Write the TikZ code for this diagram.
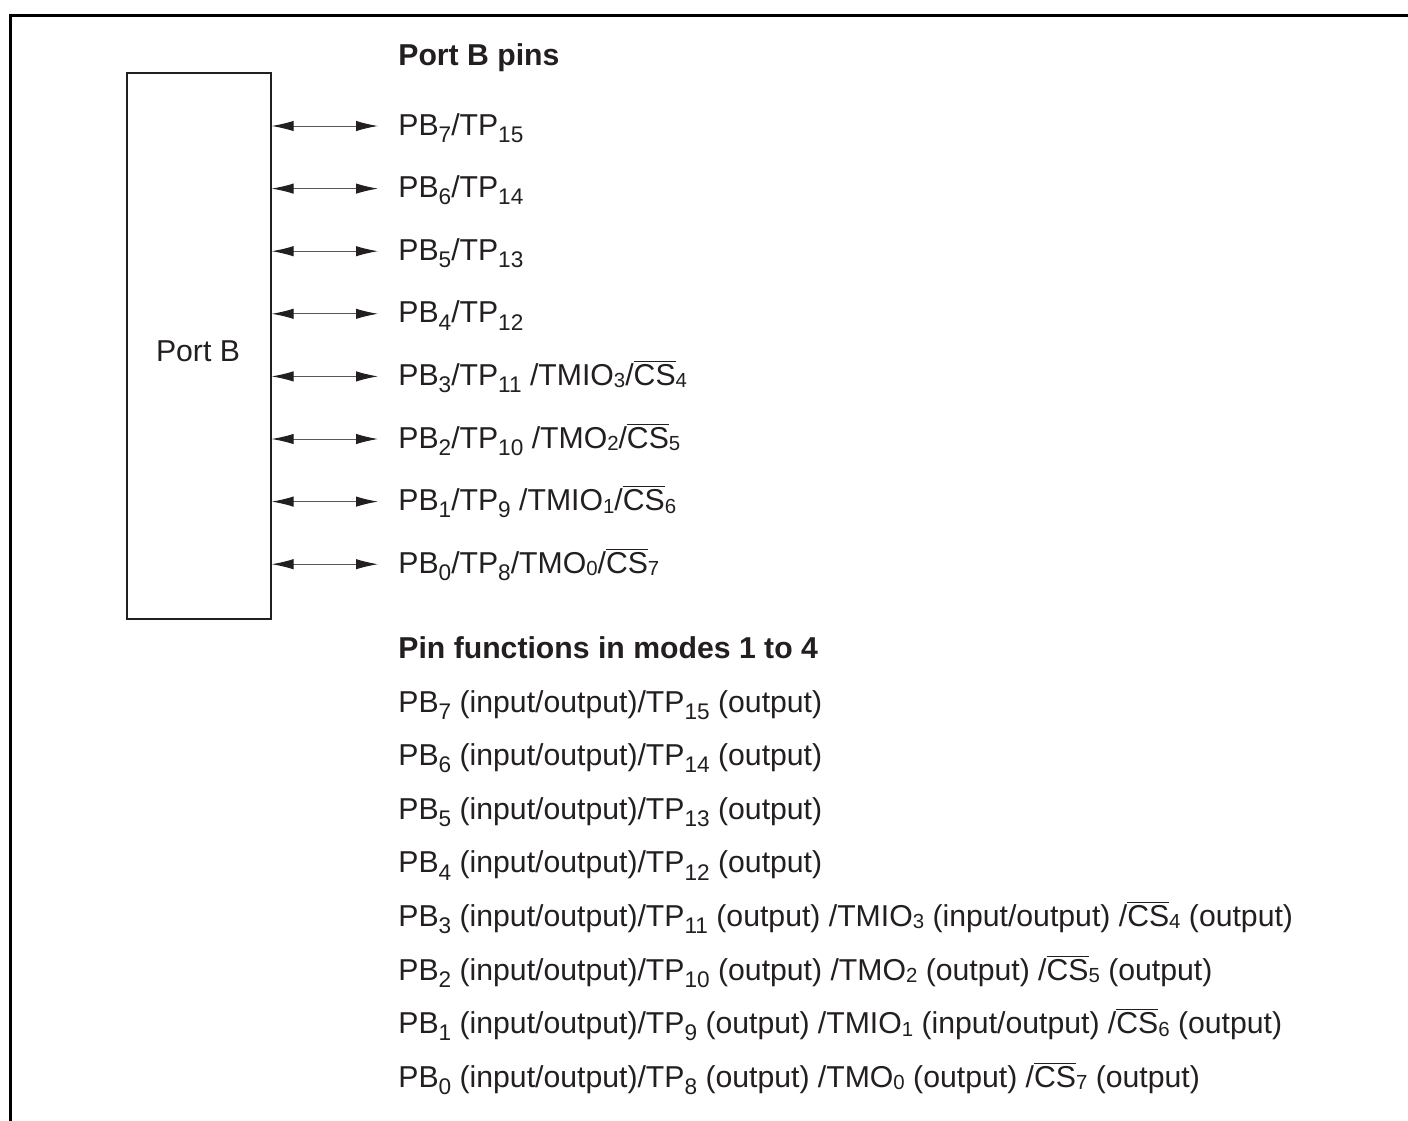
\documentclass[tikz,border=0pt]{standalone}
\usepackage{fontspec}
\setmainfont{Liberation Sans}
\usetikzlibrary{arrows.meta}
\definecolor{ink}{RGB}{35,31,32}
\newcommand\sbn[1]{\raisebox{-0.24em}{\fontsize{11.3}{13}\selectfont #1}}
\newcommand\sbs[1]{\raisebox{-0.08em}{\fontsize{10.2}{12}\selectfont #1}}
\newcommand\csbar{$\overline{\hbox{CS}}$}
\begin{document}
\begin{tikzpicture}[x=0.5pt,y=-0.5pt,
  txt/.style={anchor=base west, inner sep=0pt, text=ink, font=\fontsize{15.1}{17}\selectfont},
  head/.style={txt, font=\fontsize{15.1}{17}\selectfont\bfseries},
  biarr/.style={{Latex[length=11pt,width=5.2pt,color=ink]}-{Latex[length=11pt,width=5.2pt,color=ink]}, line width=0.5pt, draw=ink!75}]
\useasboundingbox (0,0) rectangle (1408,1120);
\fill[white] (0,0) rectangle (1408,1120);
\draw[line width=1.4pt, black] (10.3,1130) -- (10.3,15.3) -- (1420,15.3);

\node (portb) [draw=ink, line width=0.8pt, minimum width=72pt, minimum height=273pt, inner sep=0pt, anchor=north west] at (126,72) {};
\node (portblbl) [anchor=base, inner sep=0pt, text=ink, font=\fontsize{15.1}{17}\selectfont] at (198,361.7) {Port B};

\node (h1) [head] at (398,65) {Port B pins};

\node (p7) [txt] at (398,135) {PB\sbn{7}/TP\sbn{15}};
\node (p6) [txt] at (398,197.6) {PB\sbn{6}/TP\sbn{14}};
\node (p5) [txt] at (398,260.2) {PB\sbn{5}/TP\sbn{13}};
\node (p4) [txt] at (398,322.8) {PB\sbn{4}/TP\sbn{12}};
\node (p3) [txt] at (398,385.4) {PB\sbn{3}/TP\sbn{11} /TMIO\sbs{3}/\csbar\sbs{4}};
\node (p2) [txt] at (398,448) {PB\sbn{2}/TP\sbn{10} /TMO\sbs{2}/\csbar\sbs{5}};
\node (p1) [txt] at (398,510.6) {PB\sbn{1}/TP\sbn{9} /TMIO\sbs{1}/\csbar\sbs{6}};
\node (p0) [txt] at (398,573.2) {PB\sbn{0}/TP\sbn{8}/TMO\sbs{0}/\csbar\sbs{7}};

\foreach \n/\yy in {7/126,6/188.6,5/251.2,4/313.8,3/376.4,2/439,1/501.6,0/564.2}{
  \coordinate (a\n) at (378,\yy);
  \draw[biarr] (portb.east |- a\n) -- (a\n);
}

\node (h2) [head] at (398,658) {Pin functions in modes 1 to 4};

\node (f7) [txt] at (398,712) {PB\sbn{7} (input/output)/TP\sbn{15} (output)};
\node (f6) [txt] at (398,765.6) {PB\sbn{6} (input/output)/TP\sbn{14} (output)};
\node (f5) [txt] at (398,819.2) {PB\sbn{5} (input/output)/TP\sbn{13} (output)};
\node (f4) [txt] at (398,872.8) {PB\sbn{4} (input/output)/TP\sbn{12} (output)};
\node (f3) [txt] at (398,926.4) {PB\sbn{3} (input/output)/TP\sbn{11} (output) /TMIO\sbs{3} (input/output) /\csbar\sbs{4} (output)};
\node (f2) [txt] at (398,980) {PB\sbn{2} (input/output)/TP\sbn{10} (output) /TMO\sbs{2} (output) /\csbar\sbs{5} (output)};
\node (f1) [txt] at (398,1033.6) {PB\sbn{1} (input/output)/TP\sbn{9} (output) /TMIO\sbs{1} (input/output) /\csbar\sbs{6} (output)};
\node (f0) [txt] at (398,1087.2) {PB\sbn{0} (input/output)/TP\sbn{8} (output) /TMO\sbs{0} (output) /\csbar\sbs{7} (output)};
\end{tikzpicture}
\end{document}
